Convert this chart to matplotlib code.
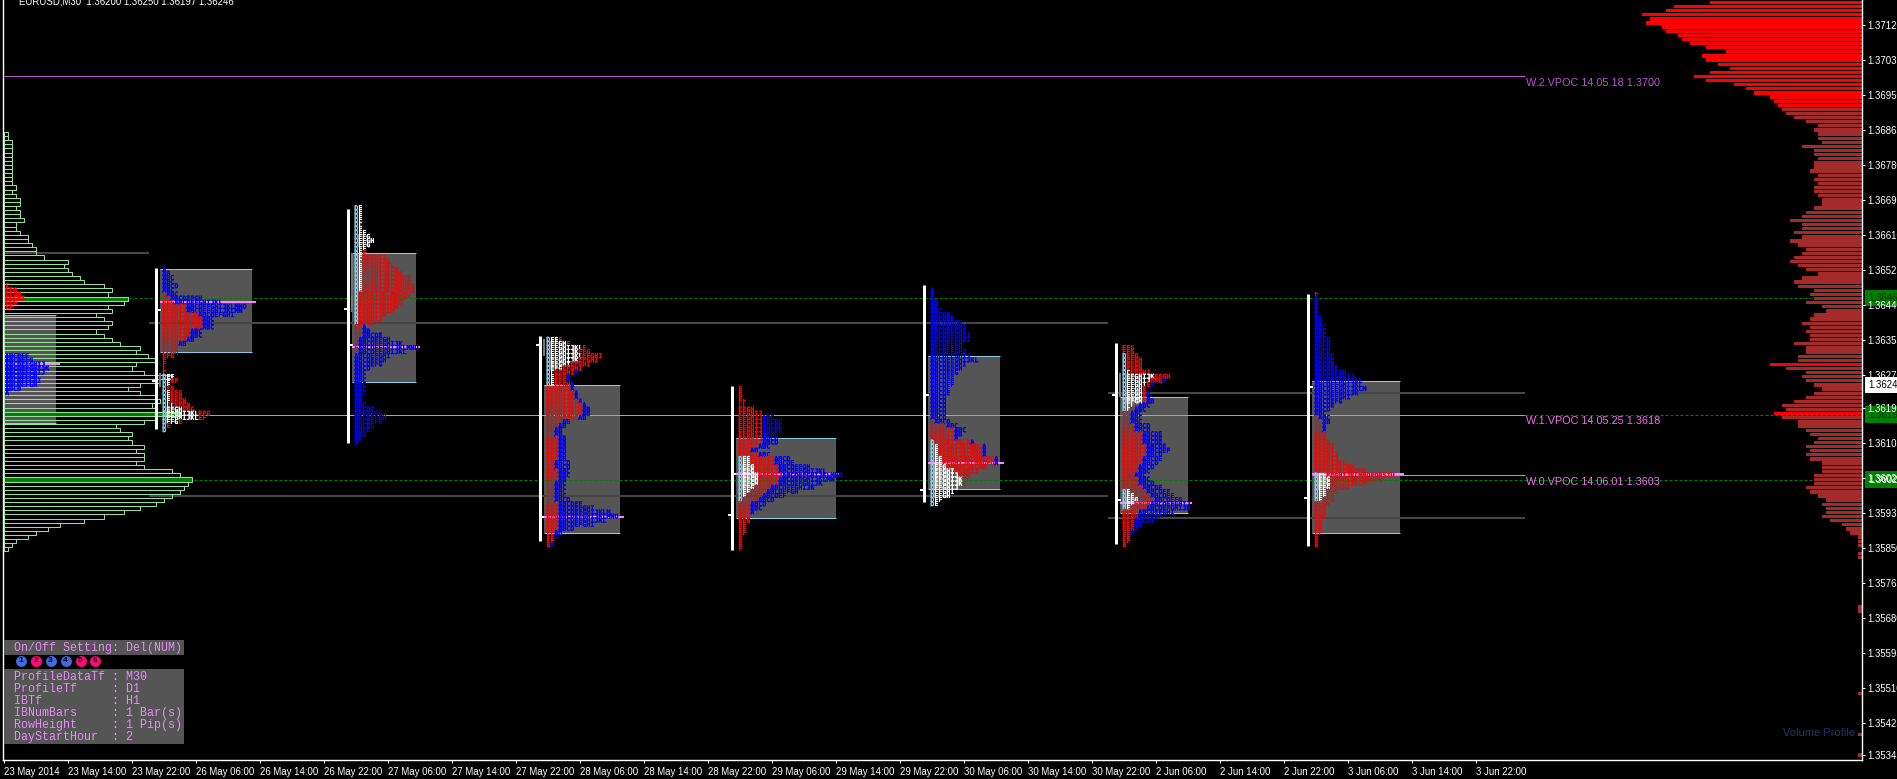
import matplotlib
matplotlib.use("Agg")
import matplotlib.pyplot as plt
import matplotlib.patheffects as pe
from matplotlib.patches import Rectangle
import numpy as np

# one row of the market profile is 1 pip, one bar is 30 minutes
TOP_ROW_PRICE = 1.37176
ROW = 0.0001
LETTERS = "ABCDEFGHIJKLMNOPQRSTUVWXYZ"

time_labels = ["23 May 2014", "23 May 14:00", "23 May 22:00", "26 May 06:00", "26 May 14:00",
               "26 May 22:00", "27 May 06:00", "27 May 14:00", "27 May 22:00", "28 May 06:00",
               "28 May 14:00", "28 May 22:00", "29 May 06:00", "29 May 14:00", "29 May 22:00",
               "30 May 06:00", "30 May 14:00", "30 May 22:00", "2 Jun 06:00", "2 Jun 14:00",
               "2 Jun 22:00", "3 Jun 06:00", "3 Jun 14:00", "3 Jun 22:00"]
time_ticks = np.arange(len(time_labels)) * 16

price_ticks = [1.37120, 1.37035, 1.36950, 1.36865, 1.36780, 1.36695, 1.36610, 1.36525,
               1.36440, 1.36355, 1.36270, 1.36190, 1.36105, 1.36020, 1.35935, 1.35850,
               1.35765, 1.35680, 1.35595, 1.35510, 1.35425, 1.35345]

# weekly volume profile on the right, one count per row from the top of the chart
vol_counts = [38, 47, 49, 55, 53, 54, 50, 49, 46, 45, 43, 39, 34, 40, 39, 36, 33, 38, 42, 39,
              32, 29, 27, 23, 22, 21, 20, 19, 17, 14, 11, 12, 11, 11, 10, 15, 12, 12, 11, 12,
              12, 13, 11, 12, 11, 12, 12, 11, 10, 10, 12, 14, 15, 18, 15, 15, 17, 15, 18, 16,
              14, 15, 17, 18, 16, 14, 11, 15, 17, 16, 12, 13, 12, 14, 10, 9, 12, 13, 15, 13,
              14, 13, 13, 17, 14, 14, 16, 16, 23, 19, 14, 15, 14, 12, 10, 12, 14, 17, 20, 19,
              22, 20, 16, 16, 14, 13, 11, 12, 14, 13, 14, 13, 10, 10, 10, 12, 12, 12, 14, 13,
              11, 9, 10, 9, 9, 10, 8, 5, 4, 3, 1, 1, 1, 0, 1, 1] + [0] * 11 + [1, 1] + [0] * 19 + [1] + [0] * 9 + [1] + [0] * 4 + [1]
vol_bright_rows = list(range(26)) + [88, 100]

# green profile at the left edge, first row is row 32
left_first_row = 32
left_counts = [1, 1] + [2] * 11 + [3, 2, 3, 4, 4, 3, 4, 4, 5, 3, 3, 4, 6, 6, 7, 8, 8, 10, 16, 15, 16, 17, 19, 20,
               25, 27, 26, 31, 30, 26, 27, 23, 25, 27, 26, 23, 25, 27, 29, 34, 33, 36, 38, 33, 32,
               35, 42, 39, 34, 31, 34, 38, 39, 37, 38, 44, 38, 35, 28, 29, 32, 31, 32, 35, 33, 35,
               35, 33, 35, 42, 44, 47, 46, 45, 44, 42, 40, 38, 34, 30, 25, 20, 14, 11, 8, 6, 3, 2, 1]
left_filled = [40, 68, 84]

# daily TPO counts: first row price, then letters per row in each colour
day_tops = [1.36486, 1.36526, 1.36676, 1.36356, 1.36236, 1.36476, 1.36336, 1.36466]
day_open_bars = [-1.3, 38, 86, 134, 182, 230, 278, 326]

day0_white = [0] * 27
day0_red = [1, 3, 4, 5, 3, 2] + [0] * 21
day0_blue = [0] * 17 + [6, 7, 10, 11, 10, 8, 9, 8, 4, 1]

day1_white = [0] * 26 + [3, 2, 2, 1, 2, 2, 2, 3, 5, 9, 9, 4, 1, 1]
day1_red = [0] * 6 + [1, 2, 3, 6, 6, 9, 10, 10, 10, 7, 7, 6, 4, 4, 4, 3, 1, 1, 1, 1, 0, 2, 0, 2, 3, 3, 4, 4, 3, 3, 2, 1, 1, 0]
day1_blue = [1, 2, 3, 3, 4, 3, 3, 8, 12, 15, 14, 9, 3, 3, 3, 3, 3, 2, 2] + [0] * 21

day2_white = [2] * 6 + [3, 4, 5, 4, 3, 2] + [2] * 9 + [1] * 8 + [0] * 29
day2_red = [0] * 11 + [1, 6, 7, 8, 9, 10, 12, 12, 13, 13, 13, 12, 11, 10, 9, 7, 6, 4, 2, 2, 2, 1, 1, 1, 1] + [0] * 22
day2_blue = [0] * 29 + [1, 2, 5, 8, 11, 15, 12, 9, 8, 7, 4, 3, 3, 3, 3, 3, 3, 2, 2, 3, 5, 7, 8, 7, 5, 4, 3, 2, 1]

day3_white = [3, 5, 9, 8, 9, 8, 6, 4, 2, 2, 2, 2] + [0] * 39
day3_red = [1, 1, 1, 3, 5, 5, 5, 5, 5, 3, 3, 4, 6, 7, 7, 8, 9, 9, 9, 8, 4, 3, 2, 2, 3, 3, 3, 3, 3, 3,
            2, 2, 3, 3, 3, 2, 2, 2, 2, 2, 3, 3, 3, 3, 3, 3, 3, 2, 2, 2, 1]
day3_blue = [0] * 8 + [1] * 9 + [2] * 13 + [4, 4, 3, 3, 2, 3, 3, 3, 3, 4, 6, 9, 13, 15, 12, 9, 4, 2, 1, 0, 1]

day4_white = [0] * 17 + [3, 3, 4, 4, 5, 5, 5, 4, 3, 2, 1] + [0] * 12
day4_red = [1, 1, 1, 2, 2, 4, 6, 6, 6, 6, 6, 6, 6, 6, 5, 3, 5, 6, 6, 6, 6, 6, 5, 5, 4, 4, 4, 4,
            3, 3, 3, 3, 3, 2, 2, 2, 1, 1, 1, 1]
day4_blue = [0] * 7 + [3, 5, 5, 5, 3, 4, 4, 3, 2, 3, 4, 5, 8, 12, 15, 14, 11, 11, 8, 6, 4, 4, 3, 1] + [0] * 9

day5_white = [0] * 37 + [1, 2, 2, 2, 3, 3, 4, 6, 7, 8, 8, 7, 6, 5, 3, 2]
day5_red = [0] * 32 + [1, 4, 6, 6, 6, 9, 11, 11, 11, 13, 13, 10, 6, 3, 2, 1] + [0] * 5
day5_blue = [1, 1, 1, 2, 2, 3, 5, 6, 8, 9, 9, 10, 10, 8, 8, 9, 10, 12, 9, 8, 7, 6, 6, 6, 5, 5, 4, 4, 4, 4, 4, 4,
             4, 3, 3, 2, 1, 1, 1, 1, 1, 1, 1] + [0] * 10

day6_white = [0, 0, 1, 1, 1, 1, 2, 8, 7, 6, 5, 5, 5, 5, 3, 2] + [0] * 19 + [2, 3, 4, 3, 2] + [0] * 9
day6_red = [3, 3, 3, 4, 4, 4, 5, 4, 3, 1, 1, 1, 1, 1, 1, 1, 2, 2, 2, 3, 3, 5, 5, 5, 6, 6, 6,
            5, 5, 4, 4, 3, 4, 4, 5, 4, 4, 4, 4, 4, 4, 4, 3, 3, 3, 2, 2, 2, 1]
day6_blue = [0, 0, 0, 0, 0, 0, 0, 0, 1, 1, 0, 1, 1, 2, 3, 3, 3, 3, 3, 4, 4, 5, 5, 5, 5, 6, 4,
             5, 4, 4, 3, 3, 3, 4, 5, 6, 6, 7, 10, 11, 9, 6, 5, 2, 1, 1, 0, 0, 0]

day7_white = [0] * 44 + [3, 4, 4, 4, 3, 3, 2] + [0] * 11
day7_red = [1] + [0] * 29 + [1, 2, 2, 2, 3, 3, 4, 5, 5, 6, 6, 8, 10, 13, 17, 13, 9, 5, 3, 2, 3, 4, 3, 3, 3, 2, 2, 2, 2, 1, 1, 1]
day7_blue = [0] + [1] * 5 + [2, 2, 3, 3, 3, 4, 4, 4, 4, 5, 5, 5, 6, 8, 10, 12, 12, 13, 11, 9, 7, 5, 4, 3, 3, 2, 1, 1] + [0] * 28

day_white = [day0_white, day1_white, day2_white, day3_white, day4_white, day5_white, day6_white, day7_white]
day_red = [day0_red, day1_red, day2_red, day3_red, day4_red, day5_red, day6_red, day7_red]
day_blue = [day0_blue, day1_blue, day2_blue, day3_blue, day4_blue, day5_blue, day6_blue, day7_blue]

# value areas and point of control of each day
va_left = [0, 39, 87, 135, 183, 231, 279, 327]
va_right = [13, 62, 103, 154, 208, 249, 296, 349]
va_high = [1.36416, 1.36527, 1.36567, 1.36246, 1.36117, 1.36316, 1.36217, 1.36255]
va_low = [1.36154, 1.36325, 1.36253, 1.35885, 1.35922, 1.35993, 1.35934, 1.35885]
poc_price = [1.36297, 1.36448, 1.36338, 1.35926, 1.36029, 1.36056, 1.35959, 1.36029]
poc_right = [14, 63, 104, 155, 209, 250, 297, 350]

# initial balance bars
ib_bars = [38, 86, 134, 182, 230, 278, 326]
ib_high = [1.3653, 1.36674, 1.36365, 1.36243, 1.36489, 1.36348, 1.36467]
ib_low = [1.36139, 1.36105, 1.35866, 1.35844, 1.35961, 1.35859, 1.35854]
ib_open = [1.36255, 1.36431, 1.36343, 1.3593, 1.3599, 1.36221, 1.35971]
ib_close = [1.36428, 1.36343, 1.35926, 1.36029, 1.36221, 1.35966, 1.36241]
range_bars = [39, 87, 135, 279]
range_high = [1.36275, 1.36567, 1.36358, 1.36275]
range_low = [1.36241, 1.36423, 1.36316, 1.36217]

# naked levels from earlier days
grey_price = [1.36567, 1.36397, 1.35976, 1.36226, 1.35922]
grey_start = [0, 36.2, 36.2, 276, 276]
grey_end = [36.2, 276, 276, 380.2, 380.2]

vpoc_price = [1.36996, 1.36174, 1.36026]
vpoc_start = [0, 39, 327]
vpoc_end = 380.2
vpoc_text = ["W.2.VPOC 14.05.18 1.3700", "W.1.VPOC 14.05.25 1.3618", "W.0.VPOC 14.06.01 1.3603"]
vpoc_colors = ["#ba55d3", "#f070f0", "#f070f0"]

# dashed levels, the middle one only shows where no VPOC line covers it
green_price = [1.36457, 1.36174, 1.36174, 1.36016]
green_start = [0, 0, 380.2, 0]
green_end = [464.35, 39, 464.35, 464.35]

tag_price = [1.36457, 1.36174, 1.36016, 1.36246]
tag_text = ["1.36460", "1.36180", "1.36020", "1.36246"]
tag_bg = ["#008000", "#008000", "#008000", "#ffffff"]
tag_fg = ["#003000", "#003000", "#ffffff", "#000000"]

settings = ["ProfileDataTf : M30", "ProfileTf     : D1", "IBTf          : H1",
            "IBNumBars     : 1 Bar(s)", "RowHeight     : 1 Pip(s)", "DayStartHour  : 2"]
button_colors = ["#4169e1", "#ff0a78", "#4169e1", "#4169e1", "#ff0a78", "#ff0a78"]

PX = 0.72  # one pixel in points at dpi 100
GREY = "#555555"

fig = plt.figure(figsize=(18.97, 7.79), dpi=100, facecolor="black")
ax = fig.add_axes([3.3 / 1897, 19 / 779, (1861.7 - 3.3) / 1897, 760 / 779], facecolor="black")
ax.set_xlim(-0.25, 464.35)
ax.set_ylim(1.35334, 1.37182)


def row_price(row):
    return TOP_ROW_PRICE - ROW * row


# value areas
for i in range(len(va_left)):
    ax.add_patch(Rectangle((va_left[i], va_low[i]), va_right[i] - va_left[i], va_high[i] - va_low[i],
                           facecolor=GREY, edgecolor="none", zorder=1))
    ax.hlines([va_low[i], va_high[i]], va_left[i], va_right[i], color="#87ceeb", lw=PX, zorder=1.2, snap=True)

ax.hlines(grey_price, grey_start, grey_end, color="#464646", lw=2 * PX, zorder=1.5, snap=True)
ax.hlines(green_price, green_start, green_end, color="#008000", lw=PX, linestyle=(0, (3, 2)), zorder=1.6, snap=True)

for price, start, color in zip(vpoc_price, vpoc_start, vpoc_colors):
    ax.hlines(price, start, vpoc_end, color=color, lw=PX, zorder=1.7, snap=True)
for price, text, color in zip(vpoc_price, vpoc_text, vpoc_colors):
    ax.text(vpoc_end + 0.1, price - 0.000155, text, color=color, fontsize=7.8,
            family="Liberation Sans", va="center", ha="left")

# left profile
left_rows = np.arange(len(left_counts)) + left_first_row
left_faces = ["#008000" if i in left_filled else "none" for i in range(len(left_counts))]
ax.barh(row_price(left_rows), left_counts, height=ROW, left=0, color=left_faces,
        edgecolor="#98e09a", linewidth=PX, zorder=2.2)

# right profile
vol_rows = np.arange(len(vol_counts))
vol_colors = ["#ff0000" if i in vol_bright_rows else "#a52a2a" for i in vol_rows]
ax.barh(row_price(vol_rows), -np.array(vol_counts, dtype=float), height=0.00008, left=464.35,
        color=vol_colors, linewidth=0, zorder=2)

# initial balance bars
ax.vlines(range_bars, range_low, range_high, color="#777777", lw=2 * PX, zorder=2.3)
ax.vlines(ib_bars, ib_low, ib_high, color="white", lw=3 * PX, zorder=2.4)
ax.hlines(ib_open, np.array(ib_bars) - 1.2, ib_bars, color="white", lw=2 * PX, zorder=2.4)
ax.hlines(ib_close, ib_bars, np.array(ib_bars) + 1.2, color="white", lw=2 * PX, zorder=2.4)

# points of control sit under the letters
ax.hlines(poc_price, va_left, poc_right, color="#ff82ff", lw=2 * PX, zorder=2.5, snap=True)


def draw_run(x, price, n, start, color):
    if n > 0:
        ax.text(x, price, (LETTERS * 2)[start:start + n], color=color, family="DejaVu Sans Mono",
                weight="bold", fontsize=4.8, va="center", ha="left", zorder=3,
                path_effects=[pe.withStroke(linewidth=0.1, foreground=color)])


for d in range(len(day_tops)):
    x0 = day_open_bars[d] + 1.5
    for r, (w, red, blue) in enumerate(zip(day_white[d], day_red[d], day_blue[d])):
        price = day_tops[d] - ROW * r
        if w > 0:
            draw_run(x0, price, 1, 3, "#87ceeb")
            draw_run(x0 + 1, price, w - 1, 4, "white")
        draw_run(x0 + w, price, red, 4, "#ff0000")
        draw_run(x0 + w + red, price, blue, 0, "#0000ff")

# price tags at the right edge, tick labels go over them
for price, text, bg, fg in zip(tag_price, tag_text, tag_bg, tag_fg):
    ax.text(1.0033, price, text, transform=ax.get_yaxis_transform(), color=fg, fontsize=6.9,
            family="Liberation Sans", va="center", ha="left", clip_on=False, zorder=0.5,
            bbox=dict(facecolor=bg, edgecolor="none", pad=2.2))

for side in ["left", "right", "bottom"]:
    ax.spines[side].set_color("white")
    ax.spines[side].set_linewidth(1.4 * PX)
ax.spines["top"].set_visible(False)
ax.yaxis.tick_right()
ax.set_yticks(price_ticks)
ax.set_yticklabels([f"{p:.5f}" for p in price_ticks], family="Liberation Sans", fontsize=6.9, color="white")
ax.set_xticks(time_ticks)
ax.set_xticklabels(time_labels, family="Liberation Sans", fontsize=6.9, color="white", ha="left")
ax.tick_params(axis="both", length=3 * PX, width=PX, color="white", pad=2.2)
ax.tick_params(axis="x", pad=3)

# chart window texts, drawn on a pixel overlay
ui = fig.add_axes([0, 0, 1, 1], facecolor="none")
ui.set_xlim(0, 1897)
ui.set_ylim(779, 0)
ui.axis("off")

ui.text(19, 1, "EURUSD,M30  1.36200 1.36250 1.36197 1.36246", color="white", fontsize=6.9,
        family="Liberation Sans", va="center", ha="left")
ui.text(1783, 733, "Volume Profile", color="#1c3a66", fontsize=8, family="Liberation Sans",
        va="center", ha="left")

ui.add_patch(Rectangle((4, 640), 180, 15, facecolor=GREY, edgecolor="none"))
ui.add_patch(Rectangle((4, 669), 180, 75, facecolor=GREY, edgecolor="none"))
ui.text(14, 647.5, "On/Off Setting: Del(NUM)", color="#e68cf5", fontsize=8.35,
        family="Liberation Mono", va="center", ha="left")
for i, line in enumerate(settings):
    ui.text(14, 677.3 + 12 * i, line, color="#e68cf5", fontsize=8.35, family="Liberation Mono",
            va="center", ha="left")
for i, color in enumerate(button_colors):
    xb = 20.7 + 14.95 * i
    ui.scatter([xb], [660.7], s=62, color=color, linewidths=0)
    ui.text(xb, 660.9, str(i + 1), color="black", fontsize=6, family="Liberation Sans",
            weight="bold", va="center", ha="center")

fig.savefig("out.png", dpi=100, facecolor="black")
